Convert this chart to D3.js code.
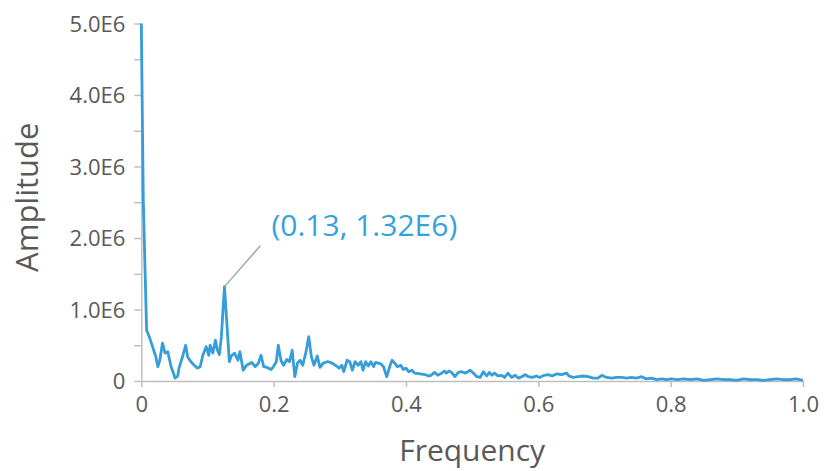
<!DOCTYPE html>
<html>
<head>
<meta charset="utf-8">
<script src="https://cdn.jsdelivr.net/npm/d3@7"></script>
<style>
    body { margin: 0; background: #fff; }
    #chart-area { width: 827px; height: 471px; }
    .axis text { font-family: "Open Sans", sans-serif; fill: #595959; }
    .axis path, .axis line { stroke: #bfbfbf; }
    .title { font-family: "Open Sans", sans-serif; fill: #595959; }
</style>
</head>
<body>
<div id="chart-area"></div>
<script>

// spectrum: frequency and amplitude (in units of 1E6)
let freq = [0, 0.003, 0.008, 0.012, 0.017, 0.022, 0.025, 0.028, 0.032, 0.036, 0.040,
    0.045, 0.049, 0.051, 0.055, 0.057, 0.063, 0.067, 0.070, 0.075, 0.080,
    0.085, 0.089, 0.093, 0.098, 0.102, 0.104, 0.108, 0.112, 0.115, 0.118, 0.121,
    0.1257, 0.130, 0.133, 0.136, 0.141, 0.146, 0.149, 0.154, 0.159, 0.167, 0.172,
    0.177, 0.181, 0.185, 0.190, 0.196, 0.199, 0.204, 0.207, 0.211, 0.215, 0.220,
    0.224, 0.228, 0.232, 0.236, 0.240, 0.244, 0.249, 0.253, 0.257, 0.261, 0.266,
    0.270, 0.275, 0.281, 0.286, 0.290, 0.295, 0.299, 0.303, 0.306, 0.311, 0.315,
    0.319, 0.323, 0.328, 0.332, 0.335, 0.339, 0.343, 0.347, 0.351, 0.354, 0.358,
    0.362, 0.366, 0.371, 0.376, 0.379, 0.383, 0.387, 0.392, 0.396, 0.400, 0.404,
    0.409, 0.413, 0.421, 0.429, 0.434, 0.438, 0.443, 0.448, 0.454, 0.458, 0.461,
    0.465, 0.469, 0.474, 0.479, 0.484, 0.490, 0.497, 0.502, 0.507, 0.512, 0.517,
    0.522, 0.526, 0.530, 0.534, 0.539, 0.544, 0.549, 0.554, 0.560, 0.565, 0.570,
    0.575, 0.580, 0.585, 0.591, 0.597, 0.602, 0.609, 0.615, 0.621, 0.628, 0.635,
    0.643, 0.646, 0.653, 0.660, 0.668, 0.675, 0.683, 0.690, 0.696, 0.703, 0.711,
    0.718, 0.726, 0.733, 0.741, 0.748, 0.756, 0.763, 0.771, 0.779, 0.786, 0.794,
    0.801, 0.811, 0.819, 0.830, 0.840, 0.850, 0.860, 0.870, 0.880, 0.890, 0.900,
    0.910, 0.920, 0.930, 0.940, 0.950, 0.960, 0.970, 0.980, 0.990, 1.0];

let ampE6 = [5.0, 2.53, 0.71, 0.62, 0.48, 0.34, 0.20, 0.29, 0.53, 0.39, 0.41,
    0.20, 0.10, 0.04, 0.07, 0.18, 0.36, 0.50, 0.34, 0.27, 0.22,
    0.18, 0.20, 0.36, 0.48, 0.36, 0.50, 0.39, 0.57, 0.43, 0.37, 0.62,
    1.32, 0.71, 0.27, 0.35, 0.39, 0.29, 0.41, 0.15, 0.22, 0.26, 0.20,
    0.25, 0.36, 0.20, 0.19, 0.16, 0.19, 0.27, 0.50, 0.29, 0.22, 0.30,
    0.27, 0.43, 0.06, 0.25, 0.29, 0.22, 0.41, 0.62, 0.34, 0.22, 0.35,
    0.19, 0.25, 0.27, 0.26, 0.24, 0.21, 0.18, 0.22, 0.13, 0.29, 0.27,
    0.15, 0.27, 0.22, 0.27, 0.15, 0.27, 0.21, 0.27, 0.20, 0.26, 0.25,
    0.24, 0.20, 0.06, 0.22, 0.29, 0.25, 0.20, 0.22, 0.16, 0.18, 0.13,
    0.15, 0.11, 0.10, 0.09, 0.07, 0.08, 0.12, 0.08, 0.11, 0.14, 0.11,
    0.14, 0.12, 0.06, 0.12, 0.13, 0.11, 0.15, 0.11, 0.06, 0.05, 0.13,
    0.07, 0.12, 0.08, 0.11, 0.07, 0.08, 0.05, 0.11, 0.05, 0.08, 0.04,
    0.06, 0.09, 0.06, 0.05, 0.07, 0.05, 0.08, 0.09, 0.07, 0.10, 0.09,
    0.11, 0.07, 0.05, 0.06, 0.07, 0.06, 0.04, 0.04, 0.08, 0.05, 0.04,
    0.05, 0.05, 0.04, 0.05, 0.04, 0.06, 0.03, 0.04, 0.02, 0.03, 0.02,
    0.03, 0.02, 0.03, 0.02, 0.03, 0.01, 0.02, 0.03, 0.02, 0.02, 0.01,
    0.03, 0.02, 0.02, 0.01, 0.02, 0.03, 0.02, 0.02, 0.03, 0.01];

let xTicks = [0, 0.2, 0.4, 0.6, 0.8, 1.0];
let yTicks = [0, 1e6, 2e6, 3e6, 4e6, 5e6];
let peak = {freq: 0.1257, amp: 1.32e6, label: "(0.13, 1.32E6)"};


class SpectrumVis {

    constructor(parentElement, data) {
        this.parentElement = parentElement;
        this.data = data;
        this.initVis();
    }

    initVis() {
        let vis = this;

        vis.margin = {top: 23.5, right: 24, bottom: 90, left: 141.3};
        vis.width = 827 - vis.margin.left - vis.margin.right;
        vis.height = 471 - vis.margin.top - vis.margin.bottom;

        vis.svg = d3.select("#" + vis.parentElement).append("svg")
            .attr("width", 827)
            .attr("height", 471)
            .append("g")
            .attr("transform", `translate(${vis.margin.left}, ${vis.margin.top})`);

        vis.x = d3.scaleLinear().domain([0, 1]).range([0, vis.width]);
        vis.y = d3.scaleLinear().domain([0, 5e6]).range([vis.height, 0]);

        // minor ticks on the y axis
        vis.svg.append("g")
            .attr("class", "axis")
            .call(d3.axisLeft(vis.y).tickValues(d3.range(0.5e6, 5e6, 1e6)).tickSize(7).tickFormat(""))
            .call(g => g.select(".domain").remove())
            .selectAll("line").attr("stroke-width", 1.5);

        vis.svg.append("g")
            .attr("class", "y-axis axis")
            .call(d3.axisLeft(vis.y).tickValues(yTicks).tickSize(7).tickSizeOuter(0).tickPadding(9)
                .tickFormat(d => d === 0 ? "0" : (d / 1e6).toFixed(1) + "E6"))
            .call(g => g.selectAll("text").attr("font-size", "22px").attr("dy", "0.36em"))
            .call(g => g.selectAll("line, path").attr("stroke-width", 1.5));

        vis.svg.append("g")
            .attr("class", "x-axis axis")
            .attr("transform", `translate(0, ${vis.height})`)
            .call(d3.axisBottom(vis.x).tickValues(xTicks).tickSize(6).tickSizeOuter(0).tickPadding(4)
                .tickFormat(d => d === 0 ? "0" : d3.format(".1f")(d)))
            .call(g => g.selectAll("text").attr("font-size", "22px").attr("dy", "0.95em"))
            .call(g => g.selectAll("line, path").attr("stroke-width", 1.5));

        vis.svg.append("text")
            .attr("class", "title")
            .attr("font-size", "30px")
            .attr("text-anchor", "middle")
            .attr("x", vis.width / 2)
            .attr("y", vis.height + 80)
            .text("Frequency");

        vis.svg.append("text")
            .attr("class", "title")
            .attr("font-size", "31px")
            .attr("text-anchor", "middle")
            .attr("transform", `translate(${-103}, ${vis.height / 2 - 5}) rotate(-90)`)
            .text("Amplitude");

        vis.updateVis();
    }

    updateVis() {
        let vis = this;

        let line = d3.line()
            .x(d => vis.x(d.freq))
            .y(d => vis.y(d.amp));

        vis.svg.append("path")
            .datum(vis.data)
            .attr("fill", "none")
            .attr("stroke", "#359dd8")
            .attr("stroke-width", 2.8)
            .attr("stroke-linejoin", "round")
            .attr("d", line);

        // label on the peak
        let px = vis.x(peak.freq), py = vis.y(peak.amp);
        vis.svg.append("line")
            .attr("x1", px).attr("y1", py)
            .attr("x2", px + 36).attr("y2", py - 41)
            .attr("stroke", "#a6a6a6")
            .attr("stroke-width", 1.5);
        vis.svg.append("text")
            .attr("x", px + 47)
            .attr("y", py - 51)
            .attr("font-family", "Open Sans, sans-serif")
            .attr("font-size", "30px")
            .attr("fill", "#35a2dc")
            .text(peak.label);
    }
}

let spectrum = freq.map((f, i) => ({freq: f, amp: ampE6[i] * 1e6}));
new SpectrumVis("chart-area", spectrum);

</script>
</body>
</html>
